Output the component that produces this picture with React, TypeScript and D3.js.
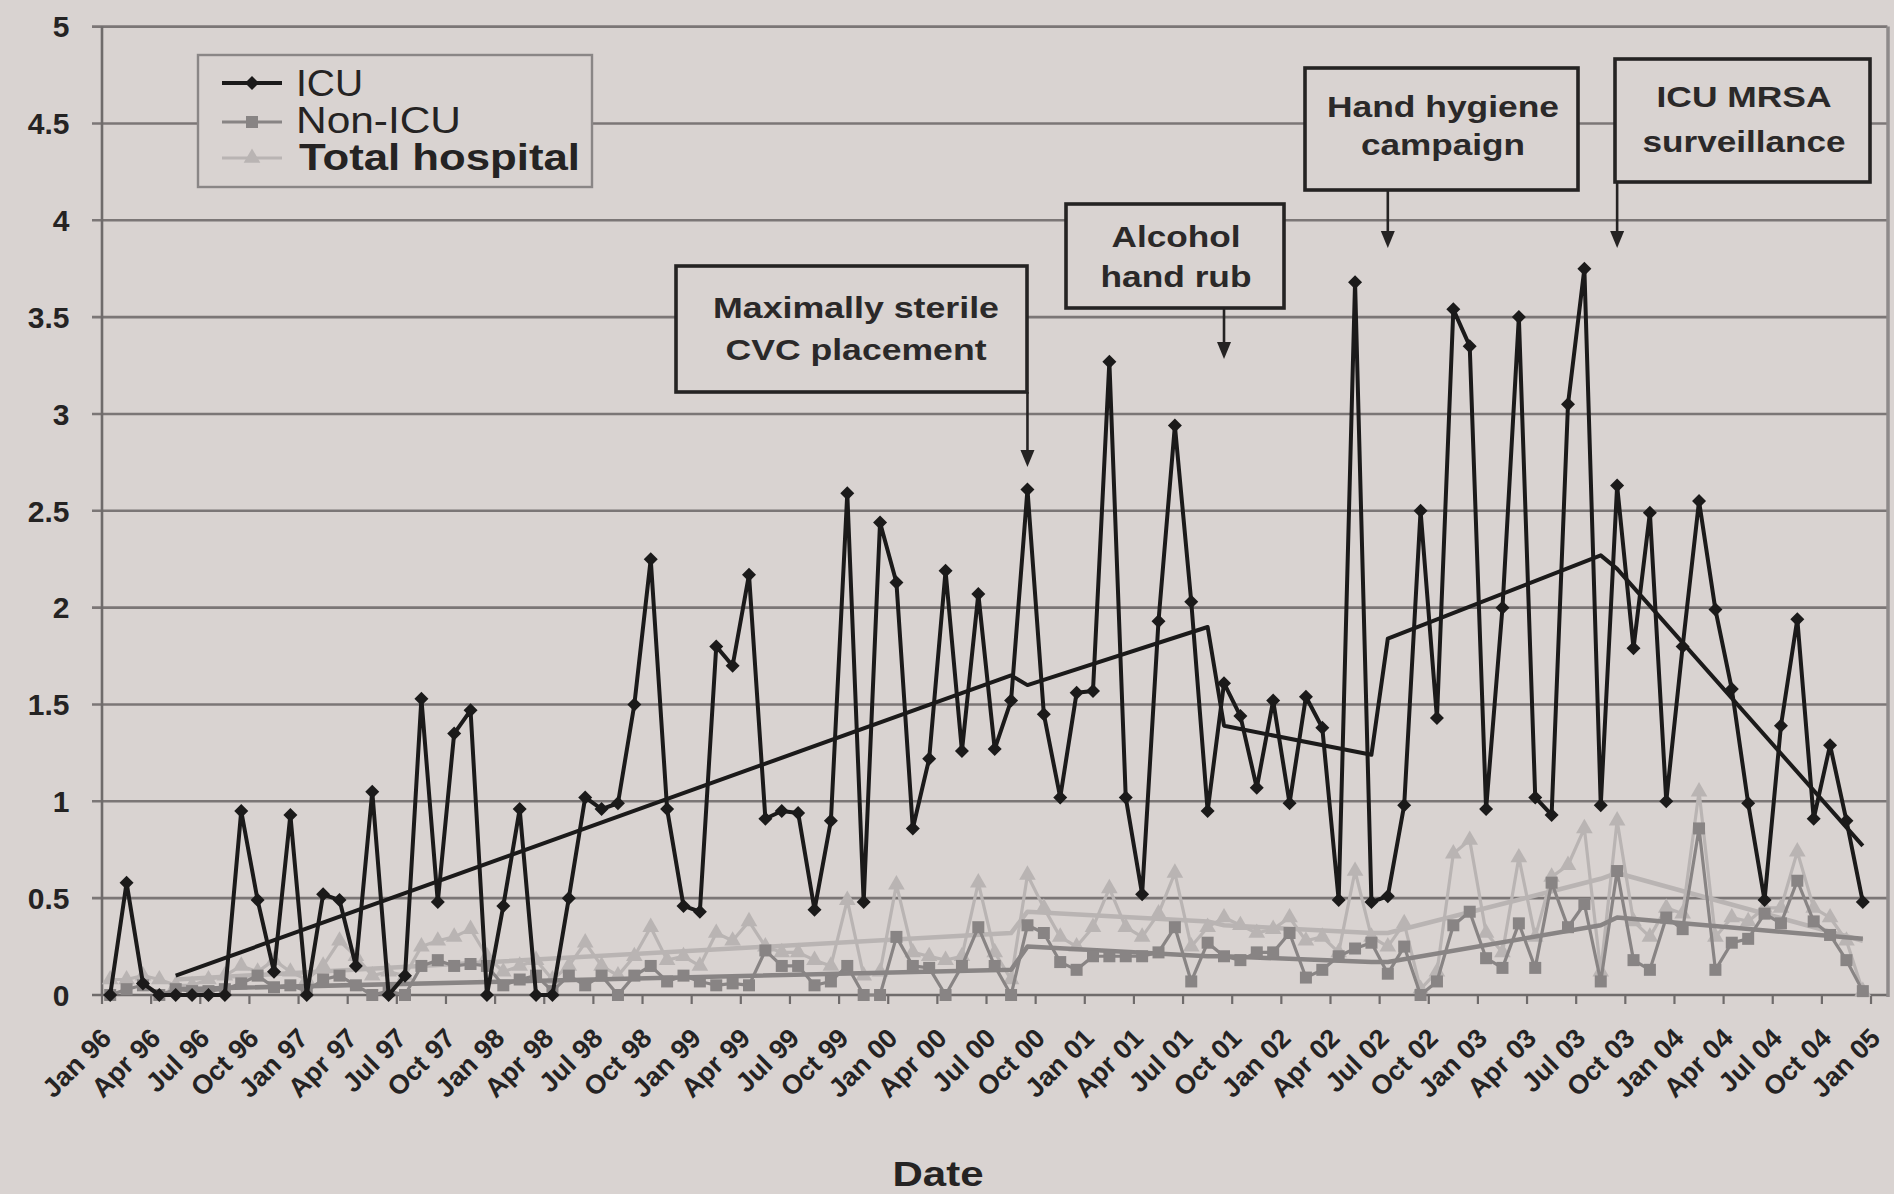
import React from 'react';
import * as d3 from 'd3';

// Monthly categories, Jan 96 through Jan 05
const YEARS = ['96', '97', '98', '99', '00', '01', '02', '03', '04', '05'];
const MONTHS = ['Jan', 'Feb', 'Mar', 'Apr', 'May', 'Jun', 'Jul', 'Aug', 'Sep', 'Oct', 'Nov', 'Dec'];
const categories: string[] = [];
YEARS.forEach((yr) => MONTHS.forEach((m) => categories.push(`${m} ${yr}`)));
categories.splice(109);

// Monthly rates (Jan 96 – Dec 04)
const icu = [
  0.00, 0.58, 0.06, 0.00, 0.00, 0.00, 0.00, 0.00, 0.95, 0.49,
  0.12, 0.93, 0.00, 0.52, 0.49, 0.15, 1.05, 0.00, 0.10, 1.53,
  0.48, 1.35, 1.47, 0.00, 0.46, 0.96, 0.00, 0.00, 0.50, 1.02,
  0.96, 0.99, 1.50, 2.25, 0.96, 0.46, 0.43, 1.80, 1.70, 2.17,
  0.91, 0.95, 0.94, 0.44, 0.90, 2.59, 0.48, 2.44, 2.13, 0.86,
  1.22, 2.19, 1.26, 2.07, 1.27, 1.52, 2.61, 1.45, 1.02, 1.56,
  1.57, 3.27, 1.02, 0.52, 1.93, 2.94, 2.03, 0.95, 1.61, 1.44,
  1.07, 1.52, 0.99, 1.54, 1.38, 0.49, 3.68, 0.48, 0.51, 0.98,
  2.50, 1.43, 3.54, 3.35, 0.96, 2.00, 3.50, 1.02, 0.93, 3.05,
  3.75, 0.98, 2.63, 1.79, 2.49, 1.00, 1.80, 2.55, 1.99, 1.58,
  0.99, 0.49, 1.39, 1.94, 0.91, 1.29, 0.90, 0.48,
];

const nonIcu = [
  0.00, 0.03, 0.05, 0.00, 0.03, 0.02, 0.02, 0.03, 0.06, 0.10,
  0.04, 0.05, 0.02, 0.08, 0.10, 0.05, 0.00, 0.02, 0.00, 0.15,
  0.18, 0.15, 0.16, 0.15, 0.05, 0.08, 0.10, 0.02, 0.10, 0.05,
  0.10, 0.00, 0.10, 0.15, 0.07, 0.10, 0.07, 0.05, 0.06, 0.05,
  0.23, 0.15, 0.15, 0.05, 0.07, 0.15, 0.00, 0.00, 0.30, 0.15,
  0.14, 0.00, 0.15, 0.35, 0.15, 0.00, 0.36, 0.32, 0.17, 0.13,
  0.20, 0.20, 0.20, 0.20, 0.22, 0.35, 0.07, 0.27, 0.20, 0.18,
  0.22, 0.22, 0.32, 0.09, 0.13, 0.20, 0.24, 0.27, 0.11, 0.25,
  0.00, 0.07, 0.36, 0.43, 0.19, 0.14, 0.37, 0.14, 0.58, 0.35,
  0.47, 0.07, 0.64, 0.18, 0.13, 0.40, 0.34, 0.86, 0.13, 0.27,
  0.29, 0.42, 0.37, 0.59, 0.38, 0.31, 0.18, 0.02,
];

const totalHospital = [
  0.08, 0.08, 0.10, 0.08, 0.05, 0.05, 0.08, 0.10, 0.15, 0.12,
  0.18, 0.12, 0.08, 0.15, 0.28, 0.20, 0.10, 0.12, 0.10, 0.25,
  0.28, 0.30, 0.34, 0.20, 0.12, 0.15, 0.18, 0.08, 0.15, 0.27,
  0.15, 0.10, 0.20, 0.35, 0.18, 0.20, 0.15, 0.32, 0.28, 0.38,
  0.25, 0.22, 0.22, 0.18, 0.15, 0.49, 0.10, 0.12, 0.57, 0.22,
  0.20, 0.18, 0.20, 0.58, 0.22, 0.08, 0.62, 0.45, 0.30, 0.25,
  0.35, 0.55, 0.35, 0.30, 0.42, 0.63, 0.25, 0.35, 0.40, 0.36,
  0.32, 0.34, 0.40, 0.28, 0.30, 0.22, 0.64, 0.30, 0.25, 0.37,
  0.03, 0.12, 0.73, 0.80, 0.32, 0.22, 0.71, 0.30, 0.61, 0.67,
  0.86, 0.12, 0.90, 0.38, 0.30, 0.45, 0.42, 1.05, 0.30, 0.40,
  0.38, 0.45, 0.45, 0.74, 0.45, 0.40, 0.28, 0.02,
];

// Segmented regression fits as [month index, fitted value] breakpoints
const icuTrend = [
  [4, 0.10], [55, 1.65], [56, 1.60], [67, 1.90], [68, 1.39],
  [77, 1.24], [78, 1.84], [91, 2.27], [92, 2.20], [107, 0.77],
];
const nonIcuTrend = [
  [4, 0.03], [55, 0.13], [56, 0.25], [67, 0.20], [68, 0.20],
  [77, 0.17], [78, 0.17], [91, 0.36], [92, 0.40], [107, 0.29],
];
const totalTrend = [
  [4, 0.08], [55, 0.32], [56, 0.43], [67, 0.38], [68, 0.36],
  [77, 0.32], [78, 0.32], [91, 0.60], [92, 0.63], [107, 0.28],
];

const yTicks = [0, 0.5, 1, 1.5, 2, 2.5, 3, 3.5, 4, 4.5, 5];

// Interventions and the month each arrow points at
const interventions = [
  { lines: ['Maximally sterile', 'CVC placement'], month: 56 },
  { lines: ['Alcohol', 'hand rub'], month: 68 },
  { lines: ['Hand hygiene', 'campaign'], month: 78 },
  { lines: ['ICU MRSA', 'surveillance'], month: 92 },
];

const W = 1894;
const H = 1194;
const BG = '#d9d3d1';
const GRID = '#7b7676';
const AXIS = '#6f6b6b';
const INK = '#252323';
const ICU_C = '#1b1a1a';
const NON_C = '#888484';
const TOT_C = '#b9b4b3';
const FONT = '"Liberation Sans", Arial, Helvetica, sans-serif';

const x = d3.scaleBand<string>().domain(categories).range([102, 1887.4]).paddingInner(0).paddingOuter(0);
const cx = (i: number) => (x(categories[i]) as number) + x.bandwidth() / 2;
const y = d3.scaleLinear().domain([0, 5]).range([995, 26.6]);

const seriesLine = d3
  .line<number>()
  .x((_, i) => cx(i))
  .y((v) => y(v));

const trendLine = d3
  .line<number[]>()
  .x((d) => cx(d[0]))
  .y((d) => y(d[1]));

const diamond = (r: number) => `M0,${-r}L${r},0L0,${r}L${-r},0Z`;
const square = (r: number) => `M${-r},${-r}H${r}V${r}H${-r}Z`;
const triangle = d3.symbol(d3.symbolTriangle, 120)() as string;

// Callout geometry: [left, top, right, bottom], text centre, baselines, text widths, arrow tip
const boxLayout = [
  { box: [676, 266, 1027, 392], tx: 856, base: [318, 360], widths: [286, 261], tip: 467 },
  { box: [1066, 204, 1284, 308], tx: 1176, base: [247, 287], widths: [129, 151], tip: 359 },
  { box: [1305, 68, 1578, 190], tx: 1443, base: [117, 155], widths: [232, 164], tip: 248 },
  { box: [1615, 59, 1870, 182], tx: 1744, base: [107, 152], widths: [175, 203], tip: 248 },
];

export default function App() {
  const labelIdx = categories.map((_, i) => i).filter((i) => i % 3 === 0);
  const tickIdx = d3.range(0, 110, 3);

  return (
    <svg
      width={W}
      height={H}
      viewBox={`0 0 ${W} ${H}`}
      style={{ position: 'fixed', left: 0, top: 0, display: 'block' }}
      fontFamily={FONT}
    >
      <rect x={0} y={0} width={W} height={H} fill={BG} />

      {/* horizontal gridlines with outward ticks */}
      {yTicks.map((t) => (
        <line key={t} x1={92} x2={1887.4} y1={y(t)} y2={y(t)} stroke={t === 0 ? AXIS : GRID} strokeWidth={2.6} />
      ))}
      {/* frame */}
      <line x1={102} x2={102} y1={y(5)} y2={y(0)} stroke={AXIS} strokeWidth={2.6} />
      <line x1={1888} x2={1888} y1={y(5)} y2={y(0) + 2} stroke={'#8e8a8a'} strokeWidth={3.5} />

      {/* x ticks between month groups */}
      {tickIdx.map((i) => {
        const xp = 102 + i * x.bandwidth();
        return <line key={i} x1={xp} x2={xp} y1={y(0)} y2={y(0) + 9} stroke={AXIS} strokeWidth={2.2} />;
      })}

      {/* y tick labels */}
      {yTicks.map((t) => (
        <text key={t} x={69.5} y={y(t)} dy="0.36em" textAnchor="end" fontSize={30} fontWeight="bold" fill={INK}>
          {String(t)}
        </text>
      ))}

      {/* x tick labels */}
      {labelIdx.map((i) => (
        <text
          key={i}
          transform={`translate(${cx(i) - 11},1026) rotate(-45)`}
          dy="0.72em"
          textAnchor="end"
          fontSize={27}
          fontWeight="bold"
          fill={INK}
        >
          {categories[i]}
        </text>
      ))}

      <text x={938} y={1186} textAnchor="middle" fontSize={35} fontWeight="bold" fill={INK} textLength={91} lengthAdjust="spacingAndGlyphs">
        Date
      </text>

      {/* Total hospital */}
      <path d={seriesLine(totalHospital) as string} fill="none" stroke={TOT_C} strokeWidth={3.2} strokeLinejoin="round" />
      <path d={trendLine(totalTrend) as string} fill="none" stroke={TOT_C} strokeWidth={4.5} strokeLinejoin="round" />
      {totalHospital.map((v, i) => (
        <path key={i} d={triangle} transform={`translate(${cx(i)},${y(v)})`} fill={TOT_C} />
      ))}

      {/* Non-ICU */}
      <path d={seriesLine(nonIcu) as string} fill="none" stroke={NON_C} strokeWidth={3.2} strokeLinejoin="round" />
      <path d={trendLine(nonIcuTrend) as string} fill="none" stroke={NON_C} strokeWidth={4.5} strokeLinejoin="round" />
      {nonIcu.map((v, i) => (
        <path key={i} d={square(6)} transform={`translate(${cx(i)},${y(v)})`} fill={NON_C} />
      ))}

      {/* ICU */}
      <path d={seriesLine(icu) as string} fill="none" stroke={ICU_C} strokeWidth={4} strokeLinejoin="round" />
      <path d={trendLine(icuTrend) as string} fill="none" stroke={ICU_C} strokeWidth={4} strokeLinejoin="round" />
      {icu.map((v, i) => (
        <path key={i} d={diamond(7)} transform={`translate(${cx(i)},${y(v)})`} fill={ICU_C} />
      ))}

      {/* intervention callouts */}
      {interventions.map((iv, k) => {
        const L = boxLayout[k];
        const [x0, y0, x1, y1] = L.box;
        const ax = cx(iv.month);
        return (
          <g key={k}>
            <line x1={ax} x2={ax} y1={y1} y2={L.tip - 14} stroke={INK} strokeWidth={2.6} />
            <path d={`M${ax - 7},${L.tip - 17}L${ax + 7},${L.tip - 17}L${ax},${L.tip}Z`} fill={INK} />
            <rect x={x0} y={y0} width={x1 - x0} height={y1 - y0} fill={BG} stroke={INK} strokeWidth={3.6} />
            {iv.lines.map((ln, j) => (
              <text
                key={j}
                x={L.tx}
                y={L.base[j]}
                textAnchor="middle"
                fontSize={30}
                fontWeight="bold"
                fill="#2b2929"
                textLength={L.widths[j]}
                lengthAdjust="spacingAndGlyphs"
              >
                {ln}
              </text>
            ))}
          </g>
        );
      })}

      {/* legend */}
      <g>
        <rect x={198} y={55} width={394} height={132} fill={BG} stroke="#8a8686" strokeWidth={2.4} />
        <line x1={222} x2={282} y1={83} y2={83} stroke={ICU_C} strokeWidth={4} />
        <path d={diamond(7)} transform="translate(252,83)" fill={ICU_C} />
        <text x={296} y={96} fontSize={36} fill={INK} textLength={67} lengthAdjust="spacingAndGlyphs">ICU</text>

        <line x1={222} x2={282} y1={122} y2={122} stroke={NON_C} strokeWidth={3.2} />
        <path d={square(6)} transform="translate(252,122)" fill={NON_C} />
        <text x={296} y={133} fontSize={36} fill={INK} textLength={165} lengthAdjust="spacingAndGlyphs">Non-ICU</text>

        <line x1={222} x2={282} y1={158} y2={158} stroke={TOT_C} strokeWidth={3.2} />
        <path d={triangle} transform="translate(252,158)" fill={TOT_C} />
        <text x={299} y={170} fontSize={36} fontWeight="bold" fill={INK} textLength={281} lengthAdjust="spacingAndGlyphs">
          Total hospital
        </text>
      </g>
    </svg>
  );
}
